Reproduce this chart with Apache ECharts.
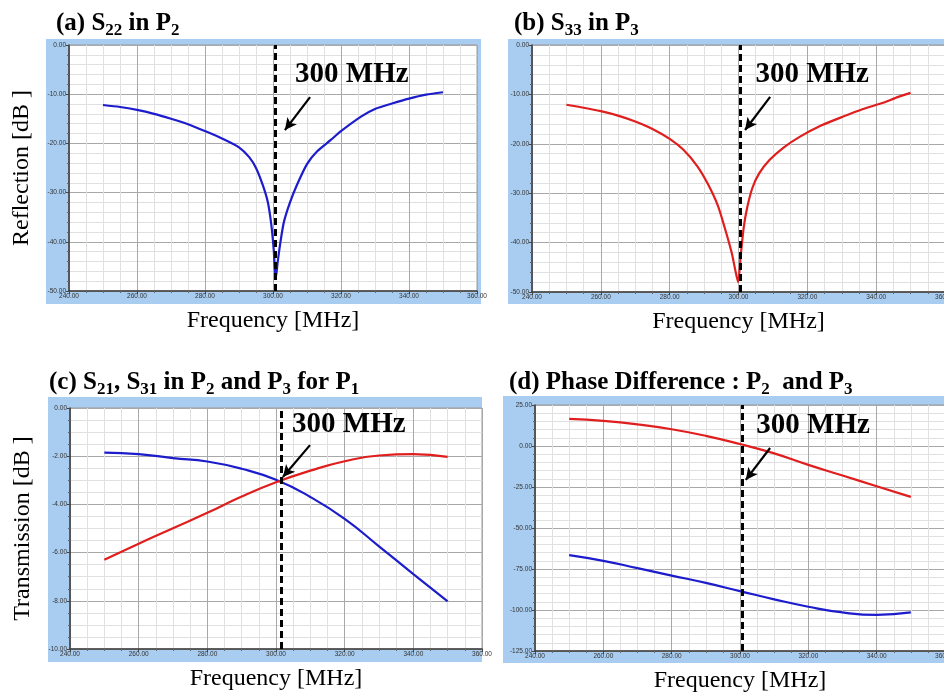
<!DOCTYPE html>
<html><head><meta charset="utf-8">
<script src="https://cdn.jsdelivr.net/npm/echarts@6/dist/echarts.min.js"></script>
<style>html,body{margin:0;padding:0;background:#fff}#c{width:944px;height:695px}</style>
</head><body><div id="c"></div>
<script>
// ---- data ----
const freqMin = 240, freqMax = 360, freqStep = 20;

const aFreq = [250,255,260,265,270,275,280,285,290,293,295,297,298.5,299.5,300.2,300.8,301.4,302.2,303.2,305,307,310,313,317,320,326,330,335,340,345,350];
const aS22  = [-12.2,-12.6,-13.2,-14.0,-15.0,-16.1,-17.5,-19.0,-20.8,-22.8,-25.0,-28.5,-32.0,-36.5,-41.5,-47.5,-44.0,-40.0,-36.0,-32.0,-28.5,-24.2,-21.6,-19.3,-17.5,-14.5,-13.0,-11.9,-10.9,-10.1,-9.6];

const bFreq = [250,255,260,265,270,275,280,284,288,291,294,296,298,299.2,299.9,300.6,301.5,302.5,304,306,309,313,318,324,330,336,342,346,350];
const bS33  = [-12.1,-12.7,-13.4,-14.3,-15.5,-17.0,-19.0,-21.2,-24.5,-28.0,-32.5,-37.0,-42.0,-46.0,-48.0,-43.0,-37.0,-33.0,-29.0,-26.0,-23.3,-20.8,-18.5,-16.3,-14.6,-13.0,-11.7,-10.6,-9.7];

const cFreq = [250,260,270,280,290,300,310,320,330,340,350];
const cS21  = [-1.85,-1.91,-2.08,-2.22,-2.52,-2.98,-3.69,-4.60,-5.74,-6.89,-8.02];
const cS31  = [-6.30,-5.63,-4.99,-4.35,-3.67,-3.08,-2.60,-2.21,-1.97,-1.91,-2.03];

const dFreq = [250,260,270,280,290,300,310,320,330,340,350];
const dP2   = [16.5,15.3,13.2,10.2,6.2,1.2,-4.5,-11.5,-18.0,-24.5,-31.0];
const dP3   = [-66.5,-70.0,-74.5,-79.0,-83.5,-88.5,-93.5,-98.0,-101.5,-103.0,-101.5];

const markFreq = [300.7, 300.6, 301.5, 300.6];   // dashed 300 MHz marker per panel
const markText = '300 MHz';
// annotation anchors in data units: [textX, textY, arrowFromX, arrowFromY, arrowToX, arrowToY]
const annA = [323.2, -6.0, 310.9, -10.6, 303.5, -17.3];
const annB = [321.4, -6.0, 309.2, -10.5, 301.9, -17.2];
const annC = [321.2, -0.68, 309.9, -1.54, 302.0, -2.86];
const annD = [321.4, 12.6, 308.8, -1.2, 301.7, -20.7];

const yRanges = [[-50,0,10,5],[-50,0,10,5],[-10,0,2,4],[-125,25,25,5]];
const yNames = ['Reflection [dB ]','', 'Transmission [dB ]',''];

const BLUE = '#1c1ccc', RED = '#e01e1e';
const zip = (xs, ys) => xs.map((x,i)=>[x, ys[i]]);

// ---- layout ----
const grids = [
  {left:69, top:45, width:408, height:246},
  {left:532, top:45, width:413, height:247},
  {left:70, top:408, width:412, height:241},
  {left:535, top:405, width:410, height:246}
];
const frames = [
  {x:46, y:39, width:435, height:265},
  {x:508, y:39, width:440, height:265},
  {x:48, y:397, width:434, height:265},
  {x:503, y:396, width:445, height:267}
];

const serif = 'Liberation Serif, Times New Roman, serif';
const sans = 'Liberation Sans, Arial, sans-serif';

function xAxis(gi){
  return {type:'value', gridIndex:gi, min:freqMin, max:freqMax, interval:freqStep,
    name:'Frequency [MHz]', nameLocation:'middle', nameGap:18,
    nameTextStyle:{fontFamily:serif, fontSize:24, color:'#000'},
    axisLine:{show:true, onZero:false, lineStyle:{color:'#3a3a3a', width:1.5}},
    axisTick:{show:true, length:3, lineStyle:{color:'#444'}},
    minorTick:{show:true, splitNumber:4, length:2, lineStyle:{color:'#666'}},
    axisLabel:{fontFamily:sans, fontSize:6.5, color:'#333', margin:2, formatter:v=>v.toFixed(2)},
    splitLine:{show:true, lineStyle:{color:'#a8a8a8', width:1}},
    minorSplitLine:{show:true, lineStyle:{color:'#e0e0e0', width:1}}
  };
}
function yAxis(gi){
  const r = yRanges[gi];
  return {type:'value', gridIndex:gi, min:r[0], max:r[1], interval:r[2],
    name:yNames[gi], nameLocation:'middle', nameGap:35, nameRotate:90,
    nameTextStyle:{fontFamily:serif, fontSize:24, color:'#000'},
    axisLine:{show:true, onZero:false, lineStyle:{color:'#3a3a3a', width:1.5}},
    axisTick:{show:true, length:3, lineStyle:{color:'#444'}},
    minorTick:{show:true, splitNumber:r[3], length:2, lineStyle:{color:'#666'}},
    axisLabel:{fontFamily:sans, fontSize:6.5, color:'#333', margin:3, formatter:v=>v.toFixed(2)},
    splitLine:{show:true, lineStyle:{color:'#a8a8a8', width:1}},
    minorSplitLine:{show:true, lineStyle:{color:'#e0e0e0', width:1}}
  };
}
function marks(gi, ann){
  return {
    markLine:{silent:true, animation:false, symbol:'none', label:{show:false},
      data:[
        {xAxis:markFreq[gi], lineStyle:{type:[7,4], width:3, color:'#000'}},
        [{coord:[ann[2],ann[3]], symbol:'none', lineStyle:{type:'solid', width:2.2, color:'#000'}},
         {coord:[ann[4],ann[5]], symbol:'arrow', symbolSize:[9,12], lineStyle:{type:'solid', width:2.2, color:'#000'}}]
      ]},
    markPoint:{silent:true, animation:false, symbol:'rect', symbolSize:1,
      itemStyle:{color:'rgba(0,0,0,0)'},
      data:[{coord:[ann[0],ann[1]],
        label:{show:true, position:'inside', formatter:markText, fontFamily:serif, fontWeight:'bold', fontSize:29, color:'#000'}}]}
  };
}
function line(gi, xs, ys, color, smooth, extra){
  return Object.assign({type:'line', xAxisIndex:gi, yAxisIndex:gi, data:zip(xs,ys),
    showSymbol:false, smooth:smooth, animation:false, silent:true,
    lineStyle:{color:color, width:2.2}, itemStyle:{color:color}}, extra||{});
}

const titleRich = {
  m:{fontFamily:serif, fontWeight:'bold', fontSize:25, color:'#000', lineHeight:30},
  s:{fontFamily:serif, fontWeight:'bold', fontSize:17, color:'#000', lineHeight:16, verticalAlign:'bottom'}
};
const titles = [
  {left:56, top:9, text:'{m|(a) S}{s|22}{m| in P}{s|2}'},
  {left:514, top:9, text:'{m|(b) S}{s|33}{m| in P}{s|3}'},
  {left:49, top:368, text:'{m|(c) S}{s|21}{m|, S}{s|31}{m| in P}{s|2}{m| and P}{s|3}{m| for P}{s|1}'},
  {left:509, top:368, text:'{m|(d) Phase Difference : P}{s|2}{m|  and P}{s|3}'}
].map(t=>({left:t.left, top:t.top, text:t.text, padding:0, textStyle:{rich:titleRich}}));

const option = {
  backgroundColor:'#fff',
  animation:false,
  title:titles,
  graphic:frames.map(f=>({type:'rect', z:-100, silent:true, shape:f, style:{fill:'#a9cdf0'}})),
  grid:grids.map(g=>Object.assign({show:true, backgroundColor:'#fff', borderColor:'#999', borderWidth:1, outerBoundsMode:'none', containLabel:false}, g)),
  xAxis:[0,1,2,3].map(xAxis),
  yAxis:[0,1,2,3].map(yAxis),
  series:[
    line(0, aFreq, aS22, BLUE, 0.25, marks(0, annA)),
    line(1, bFreq, bS33, RED, 0.25, marks(1, annB)),
    line(2, cFreq, cS21, BLUE, 0.5, marks(2, annC)),
    line(2, cFreq, cS31, RED, 0.5),
    line(3, dFreq, dP2, RED, 0.5, marks(3, annD)),
    line(3, dFreq, dP3, BLUE, 0.5)
  ]
};
const chart = echarts.init(document.getElementById('c'), null, {renderer:'canvas'});
chart.setOption(option);
</script></body></html>
